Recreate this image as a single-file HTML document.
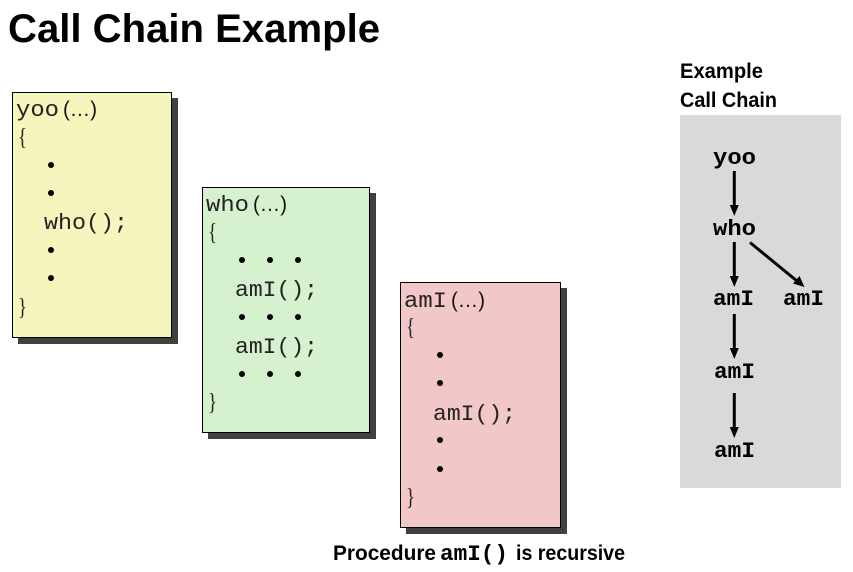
<!DOCTYPE html>
<html>
<head>
<meta charset="utf-8">
<style>
html,body{margin:0;padding:0;background:#fff;width:853px;height:572px;overflow:hidden}
svg{display:block}
.m{font-family:"Liberation Mono",monospace;font-size:22px;fill:#222}
.s{font-family:"Liberation Sans",sans-serif;font-size:21px;fill:#111}
.br{font-family:"Liberation Serif",serif;font-size:24px;fill:#222}
.b{font-family:"Liberation Sans",sans-serif;font-weight:bold;fill:#000}
.mb{font-family:"Liberation Mono",monospace;font-weight:bold;font-size:22px;fill:#000}
</style>
</head>
<body>
<svg width="853" height="572" viewBox="0 0 853 572" xmlns="http://www.w3.org/2000/svg">
<text class="b" x="8" y="42" font-size="40" textLength="372" lengthAdjust="spacingAndGlyphs">Call Chain Example</text>

<!-- yoo -->
<rect x="18" y="98" width="160" height="246" fill="#404040"/>
<rect x="12.5" y="92.5" width="159" height="245" fill="#f6f5bd" stroke="#000"/>
<text class="m" x="16" y="116" textLength="43" lengthAdjust="spacingAndGlyphs">yoo</text>
<text class="s" x="63" y="116" textLength="34" lengthAdjust="spacingAndGlyphs">(…)</text>
<text class="br" x="18" y="145" textLength="9" lengthAdjust="spacingAndGlyphs">{</text>
<circle cx="51" cy="165" r="3" fill="#000"/>
<circle cx="51" cy="193" r="3" fill="#000"/>
<text class="m" x="44" y="229" textLength="84" lengthAdjust="spacingAndGlyphs">who();</text>
<circle cx="51" cy="250" r="3" fill="#000"/>
<circle cx="51" cy="278" r="3" fill="#000"/>
<text class="br" x="18" y="315" textLength="9" lengthAdjust="spacingAndGlyphs">}</text>

<!-- who -->
<rect x="208" y="193" width="168" height="246" fill="#404040"/>
<rect x="202.5" y="187.5" width="167" height="245" fill="#d6f1d0" stroke="#000"/>
<text class="m" x="206" y="211" textLength="43" lengthAdjust="spacingAndGlyphs">who</text>
<text class="s" x="253" y="211" textLength="34" lengthAdjust="spacingAndGlyphs">(…)</text>
<text class="br" x="208" y="240" textLength="9" lengthAdjust="spacingAndGlyphs">{</text>
<circle cx="242" cy="260" r="3" fill="#000"/><circle cx="270" cy="260" r="3" fill="#000"/><circle cx="298" cy="260" r="3" fill="#000"/>
<text class="m" x="235" y="296" textLength="83" lengthAdjust="spacingAndGlyphs">amI();</text>
<circle cx="242" cy="317" r="3" fill="#000"/><circle cx="270" cy="317" r="3" fill="#000"/><circle cx="298" cy="317" r="3" fill="#000"/>
<text class="m" x="235" y="353" textLength="83" lengthAdjust="spacingAndGlyphs">amI();</text>
<circle cx="242" cy="374" r="3" fill="#000"/><circle cx="270" cy="374" r="3" fill="#000"/><circle cx="298" cy="374" r="3" fill="#000"/>
<text class="br" x="208" y="410" textLength="9" lengthAdjust="spacingAndGlyphs">}</text>

<!-- amI -->
<rect x="406" y="288" width="161" height="246" fill="#404040"/>
<rect x="400.5" y="282.5" width="160" height="245" fill="#f2c7c8" stroke="#000"/>
<text class="m" x="404" y="307" textLength="43" lengthAdjust="spacingAndGlyphs">amI</text>
<text class="s" x="451" y="307" textLength="34" lengthAdjust="spacingAndGlyphs">(…)</text>
<text class="br" x="406" y="335" textLength="9" lengthAdjust="spacingAndGlyphs">{</text>
<circle cx="440" cy="355" r="3" fill="#000"/>
<circle cx="440" cy="383" r="3" fill="#000"/>
<text class="m" x="433" y="420" textLength="83" lengthAdjust="spacingAndGlyphs">amI();</text>
<circle cx="440" cy="440" r="3" fill="#000"/>
<circle cx="440" cy="469" r="3" fill="#000"/>
<text class="br" x="406" y="505" textLength="9" lengthAdjust="spacingAndGlyphs">}</text>

<!-- caption -->
<text class="b" x="333" y="560" font-size="21" textLength="103" lengthAdjust="spacingAndGlyphs">Procedure</text>
<text class="mb" x="440" y="560" textLength="68" lengthAdjust="spacingAndGlyphs">amI()</text>
<text class="b" x="516" y="560" font-size="21" textLength="109" lengthAdjust="spacingAndGlyphs">is recursive</text>

<!-- right panel -->
<text class="b" x="680" y="78" font-size="21" textLength="83" lengthAdjust="spacingAndGlyphs">Example</text>
<text class="b" x="680" y="107" font-size="21" textLength="97" lengthAdjust="spacingAndGlyphs">Call Chain</text>
<rect x="680" y="115" width="161" height="373" fill="#d9d9d9"/>
<text class="mb" x="713" y="164" textLength="43" lengthAdjust="spacingAndGlyphs">yoo</text>
<text class="mb" x="713" y="235" textLength="43" lengthAdjust="spacingAndGlyphs">who</text>
<text class="mb" x="713" y="305" textLength="41" lengthAdjust="spacingAndGlyphs">amI</text>
<text class="mb" x="783" y="305" textLength="41" lengthAdjust="spacingAndGlyphs">amI</text>
<text class="mb" x="714" y="378" textLength="41" lengthAdjust="spacingAndGlyphs">amI</text>
<text class="mb" x="714" y="457" textLength="41" lengthAdjust="spacingAndGlyphs">amI</text>
<g stroke="#000" stroke-width="3" fill="none">
<line x1="734.3" y1="171" x2="734.3" y2="207"/>
<line x1="734.3" y1="242" x2="734.3" y2="278"/>
<line x1="750" y1="242.5" x2="797" y2="281"/>
<line x1="734.3" y1="314" x2="734.3" y2="350"/>
<line x1="734.3" y1="393" x2="734.3" y2="429"/>
</g>
<g fill="#000">
<path d="M729.8,205 H738.8 L734.3,216 Z"/>
<path d="M729.8,276 H738.8 L734.3,287 Z"/>
<path d="M793,283.5 L799.5,276 L804.5,287 Z"/>
<path d="M729.8,348 H738.8 L734.3,359 Z"/>
<path d="M729.8,427 H738.8 L734.3,438 Z"/>
</g>
</svg>
</body>
</html>
